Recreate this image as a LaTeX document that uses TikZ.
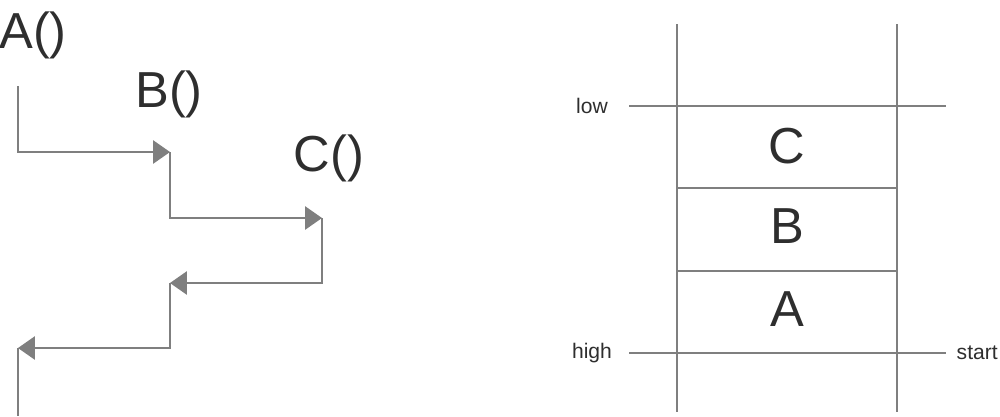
\documentclass[tikz,border=0pt]{standalone}
\usepackage{fontspec}
\setmainfont{Liberation Sans}
\usepackage{tikz}
\usetikzlibrary{calc}
\usetikzlibrary{positioning}
\usetikzlibrary{arrows.meta}
\definecolor{linegray}{HTML}{7F7F7F}
\definecolor{textgray}{HTML}{2E2E2E}

\begin{document}
\begin{tikzpicture}[x=0.025cm,y=-0.025cm,line width=1pt,
	  call/.style={draw=linegray,-{Triangle[length=0.42cm,width=0.58cm]}},
	  rail/.style={draw=linegray},
	  func/.style={font=\fontsize{36}{42}\selectfont,text=textgray,inner sep=0pt},
	  tag/.style={font=\fontsize{15}{18}\selectfont,text=textgray,inner sep=0pt}]

	  \useasboundingbox (0,0) rectangle (1000,416);

	  % calls on the left
	  \node[func] (A) at (33,35) {A()};
	  \node[func] (B) at ($ (A) + (136,59) $) {B()};
	  \node[func] (C) at ($ (B) + (160,64) $) {C()};

	  \coordinate (a0) at (18,86);
	  \coordinate (b0) at (170,152);
	  \coordinate (c0) at (322,218);
	  \coordinate (b1) at (170,283);
	  \coordinate (a1) at (18,348);
	  \coordinate (a2) at (18,416);

	  \draw[call] (a0) |- (b0);
	  \draw[call] (b0) |- (c0);
	  \draw[call] (c0) |- (b1);
	  \draw[call] (b1) |- (a1);
	  \draw[rail] (a1) -- (a2);

	  % the stack on the right
	  \coordinate (lt) at (677,24);
	  \coordinate (lb) at (677,412);
	  \coordinate (rt) at (897,24);
	  \coordinate (rb) at (897,412);
	  \coordinate (lowL) at (629,106);
	  \coordinate (lowR) at (946,106);
	  \coordinate (highL) at (629,353);
	  \coordinate (highR) at (946,353);
	  \coordinate (s1L) at (677,188);
	  \coordinate (s1R) at (897,188);
	  \coordinate (s2L) at (677,271);
	  \coordinate (s2R) at (897,271);

	  \draw[rail] (lt) -- (lb);
	  \draw[rail] (rt) -- (rb);
	  \draw[rail] (lowL) -- (lowR);
	  \draw[rail] (s1L) -- (s1R);
	  \draw[rail] (s2L) -- (s2R);
	  \draw[rail] (highL) -- (highR);

	  \node[tag] (low) at (592,106) {low};
	  \node[tag] (high) at (592,353) {high};
	  \node[tag, right=0.25cm of highR] (start) {start};

	  \node[func] (fC) at (787,146) {C};
	  \node[func] (fB) at (787,226) {B};
	  \node[func] (fA) at (787,309) {A};
	\end{tikzpicture}
\end{document}
